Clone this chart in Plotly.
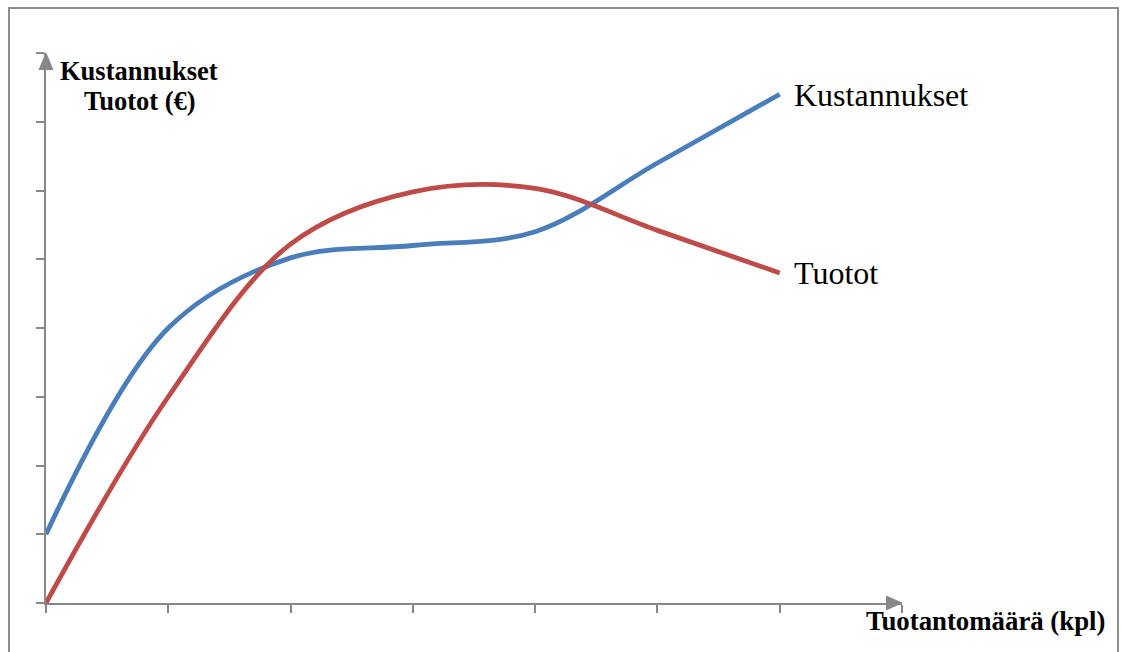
import plotly.graph_objects as go

# Production volume steps and the two curves
quantity = [0, 1, 2, 3, 4, 5, 6]
kustannukset = [1.0, 4.0, 5.02, 5.2, 5.4, 6.4, 7.4]
tuotot = [0.0, 3.0, 5.22, 5.98, 6.03, 5.42, 4.8]

x_range = [0, 7]
y_range = [0, 8]

BLUE = "#4A7EBB"
RED = "#BE4B48"
GRAY = "#878787"
SERIF = "Liberation Serif, Times New Roman, serif"

W, H = 1122, 652
ML, MR, MT, MB = 46, 220, 53, 49
PW, PH = W - ML - MR, H - MT - MB


def px(xp):
    return (xp - ML) / PW


def py(yp):
    return (H - MB - yp) / PH


fig = go.Figure()
fig.add_trace(go.Scatter(x=quantity, y=kustannukset, mode="lines",
                         line=dict(color=BLUE, width=4.8, shape="spline", smoothing=1.0),
                         name="Kustannukset", hoverinfo="skip"))
fig.add_trace(go.Scatter(x=quantity, y=tuotot, mode="lines",
                         line=dict(color=RED, width=4.8, shape="spline", smoothing=1.0),
                         name="Tuotot", hoverinfo="skip"))

axis_style = dict(showline=True, linecolor=GRAY, linewidth=2, ticks="outside",
                  ticklen=8, tickwidth=2, tickcolor=GRAY, showticklabels=False,
                  showgrid=False, zeroline=False, dtick=1, tick0=0, fixedrange=True)

fig.update_xaxes(range=x_range, **axis_style)
fig.update_yaxes(range=y_range, **axis_style)

shapes = [
    # outer frame
    dict(type="rect", xref="paper", yref="paper",
         x0=px(9), x1=px(1118), y0=py(700), y1=py(8),
         line=dict(color="#8E8E8E", width=2), layer="below"),
    # arrow heads
    dict(type="path", xref="paper", yref="paper",
         path=f"M {px(46)} {py(52)} L {px(38.5)} {py(70)} L {px(53.5)} {py(70)} Z",
         fillcolor=GRAY, line=dict(width=0)),
    dict(type="path", xref="paper", yref="paper",
         path=f"M {px(903)} {py(603)} L {px(886)} {py(595.5)} L {px(886)} {py(610.5)} Z",
         fillcolor=GRAY, line=dict(width=0)),
]

annotations = [
    dict(text="<b>Kustannukset</b>", xref="paper", yref="paper", x=px(139), y=py(71),
         xanchor="center", yanchor="middle", showarrow=False,
         font=dict(family=SERIF, size=26.5, color="black")),
    dict(text="<b>Tuotot (€)</b>", xref="paper", yref="paper", x=px(139.5), y=py(101),
         xanchor="center", yanchor="middle", showarrow=False,
         font=dict(family=SERIF, size=26.5, color="black")),
    dict(text="<b>Tuotantomäärä (kpl)</b>", xref="paper", yref="paper", x=px(1107), y=py(621),
         xanchor="right", yanchor="middle", showarrow=False,
         font=dict(family=SERIF, size=26.8, color="black")),
    dict(text="Kustannukset", xref="x", yref="y", x=quantity[-1], y=kustannukset[-1],
         xanchor="left", yanchor="middle", xshift=12, yshift=-1, showarrow=False,
         font=dict(family=SERIF, size=32, color="black")),
    dict(text="Tuotot", xref="x", yref="y", x=quantity[-1], y=tuotot[-1],
         xanchor="left", yanchor="middle", xshift=12, yshift=0, showarrow=False,
         font=dict(family=SERIF, size=32, color="black")),
]

fig.update_layout(width=W, height=H, margin=dict(l=ML, r=MR, t=MT, b=MB),
                  paper_bgcolor="white", plot_bgcolor="white", showlegend=False,
                  shapes=shapes, annotations=annotations)

fig.write_html("out.html", config=dict(displayModeBar=False))
